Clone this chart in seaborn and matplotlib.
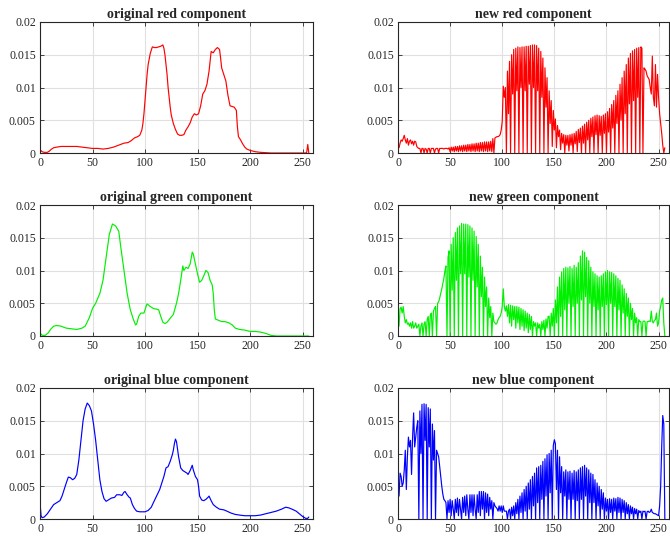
import numpy as np
import pandas as pd
import matplotlib
matplotlib.use("Agg")
import matplotlib.pyplot as plt
import seaborn as sns

# ---------------- data (values in units of 1e-4) ----------------
# original histograms: gray level / value pairs
orig_red_x = [0, 2, 4, 7, 9, 11, 13, 16, 20, 25, 30, 35, 40, 45, 50, 55, 60, 65, 70, 75, 80, 84, 87, 90,
              93, 95, 97, 98, 99, 100, 101, 102, 103, 105, 107, 109, 111, 113, 115, 117, 118, 119, 120,
              121, 122, 123, 124, 125, 127, 129, 131, 133, 135, 137, 139, 141, 143, 145, 147, 149, 151,
              153, 155, 157, 159, 161, 162, 163, 165, 167, 169, 171, 172, 173, 175, 177, 179, 181, 183,
              185, 187, 188, 189, 191, 193, 195, 197, 200, 205, 210, 220, 253, 254, 255, 256]
orig_red_y = [5, 2, 1, 1, 3, 6, 8, 9, 10, 10, 10, 10, 9, 8, 7, 7, 6, 7, 9, 12, 15, 16, 19, 23,
              25, 27, 35, 45, 60, 80, 100, 120, 135, 152, 162, 161, 161, 162, 163, 165, 160, 150, 135,
              120, 100, 85, 70, 58, 45, 36, 29, 27, 27, 28, 35, 40, 46, 55, 60, 58, 60,
              72, 90, 95, 105, 125, 140, 155, 153, 158, 161, 158, 145, 130, 120, 110, 88, 72, 71,
              70, 65, 40, 25, 20, 14, 9, 6, 4, 2, 1, 0, 0, 1, 13, 0]

orig_green_x = [0, 2, 5, 8, 10, 13, 16, 20, 25, 30, 35, 40, 43, 47, 50, 53, 57, 60, 63, 66, 69, 72, 75,
                77, 80, 83, 86, 89, 91, 92, 94, 96, 99, 101, 102, 105, 108, 111, 113, 115, 117, 119, 121,
                124, 127, 130, 132, 134, 136, 137, 139, 141, 143, 145, 146, 148, 150, 152, 154, 156, 158,
                160, 162, 164, 165, 166, 167, 170, 173, 176, 180, 183, 186, 190, 195, 200, 205, 210, 215,
                220, 225, 256]
orig_green_y = [5, 1, 1, 5, 10, 15, 16, 15, 12, 11, 10, 12, 15, 28, 42, 50, 65, 85, 120, 155, 171, 168, 160,
                135, 100, 65, 40, 25, 17, 18, 30, 35, 35, 45, 49, 45, 42, 41, 40, 30, 21, 19, 21,
                27, 33, 50, 65, 85, 107, 100, 105, 103, 110, 128, 125, 110, 95, 82, 85, 92, 100,
                97, 85, 78, 65, 40, 26, 24, 22, 22, 20, 17, 12, 10, 9, 7, 7, 6, 4,
                1, 0, 0]

orig_blue_x = [0, 1, 2, 4, 7, 10, 13, 16, 19, 21, 23, 25, 27, 29, 31, 33, 35, 37, 39, 41, 43, 45, 47, 49,
               51, 53, 55, 57, 59, 61, 63, 65, 68, 71, 73, 76, 78, 80, 81, 83, 85, 86, 88, 90, 92, 95,
               98, 100, 103, 106, 108, 111, 114, 116, 118, 120, 122, 124, 126, 127, 128, 129, 130, 132,
               134, 136, 138, 140, 141, 143, 145, 146, 148, 150, 151, 152, 154, 156, 158, 160, 161, 163,
               165, 168, 171, 175, 178, 182, 186, 190, 195, 200, 205, 210, 215, 220, 225, 230, 234, 237,
               240, 244, 247, 250, 253, 255, 256]
orig_blue_y = [25, 5, 2, 3, 8, 15, 22, 25, 28, 35, 45, 55, 64, 63, 60, 62, 68, 90, 120, 150, 168, 177, 173, 165,
               145, 120, 90, 60, 42, 31, 27, 29, 32, 33, 37, 37, 36, 41, 42, 37, 33, 32, 22, 16, 12, 11,
               11, 11, 13, 18, 25, 35, 45, 55, 65, 78, 80, 88, 98, 105, 115, 122, 118, 95,
               78, 74, 72, 70, 68, 74, 82, 75, 65, 60, 50, 35, 29, 28, 30, 33, 35, 28,
               22, 18, 15, 14, 12, 9, 7, 6, 5, 5, 5, 6, 8, 10, 12, 15, 18, 17,
               15, 12, 8, 4, 1, 1, 3]

# equalised histograms, gray levels 1..256
new_red = [8, 15, 20, 18, 22, 27, 20, 15, 22, 12, 18, 20, 14, 18, 12, 18,
           17, 10, 8, 7, 7, 0, 7, 7, 0, 7, 6, 0, 7, 7, 0, 7,
           7, 7, 0, 6, 7, 7, 0, 7, 7, 7, 7, 6, 7, 7, 7, 6,
           8, 2, 9, 3, 9, 2, 10, 3, 10, 2, 11, 3, 11, 2, 12, 3,
           12, 2, 13, 3, 13, 2, 14, 3, 14, 2, 15, 3, 15, 2, 16, 3,
           16, 2, 17, 3, 17, 2, 17, 3, 18, 2, 22, 0, 23, 24, 25, 25,
           26, 28, 35, 48, 102, 85, 100, 0, 125, 60, 140, 0, 150, 90, 158, 0,
           160, 95, 162, 0, 161, 100, 162, 0, 162, 95, 163, 0, 163, 105, 164, 0,
           165, 100, 165, 0, 164, 95, 160, 0, 155, 85, 145, 0, 130, 70, 115, 0,
           95, 45, 80, 10, 65, 35, 52, 8, 42, 25, 35, 5, 30, 15, 28, 0,
           27, 12, 27, 3, 28, 12, 29, 0, 30, 14, 33, 2, 36, 16, 38, 0,
           41, 15, 44, 0, 47, 20, 50, 0, 53, 25, 55, 0, 57, 28, 58, 0,
           57, 27, 56, 0, 58, 30, 60, 0, 63, 32, 68, 0, 74, 38, 80, 0,
           88, 45, 95, 0, 105, 50, 115, 0, 125, 60, 135, 0, 145, 75, 152, 0,
           156, 80, 158, 0, 160, 85, 161, 0, 162, 160, 0, 130, 128, 125, 118, 115,
           112, 100, 90, 148, 85, 72, 135, 70, 120, 85, 60, 45, 30, 12, 0, 8]

new_green = [15, 42, 44, 35, 45, 30, 20, 25, 18, 20, 15, 20, 12, 22, 12, 15,
             20, 12, 15, 18, 0, 15, 20, 0, 18, 22, 0, 25, 30, 0, 32, 35,
             0, 38, 42, 45, 0, 50, 52, 58, 65, 72, 80, 88, 99, 107, 0, 120,
             130, 0, 140, 70, 150, 0, 158, 85, 165, 0, 168, 95, 172, 0, 171, 95,
             171, 0, 170, 90, 168, 0, 165, 85, 160, 0, 152, 75, 140, 0, 122, 60,
             105, 0, 90, 45, 75, 0, 58, 28, 45, 0, 35, 22, 20, 18, 20, 25,
             28, 30, 35, 45, 72, 45, 38, 46, 30, 48, 20, 47, 15, 46, 25, 45,
             12, 45, 20, 44, 10, 42, 15, 40, 8, 38, 12, 35, 5, 33, 10, 30,
             0, 22, 15, 20, 0, 20, 12, 18, 0, 22, 10, 24, 0, 26, 12, 30,
             30, 0, 35, 15, 42, 0, 55, 20, 75, 0, 90, 30, 98, 0, 103, 40,
             105, 0, 104, 50, 106, 0, 103, 45, 108, 0, 105, 50, 112, 0, 122, 55,
             130, 0, 128, 60, 120, 0, 115, 50, 105, 0, 98, 45, 95, 0, 92, 40,
             90, 0, 92, 45, 95, 0, 98, 48, 100, 0, 98, 50, 97, 0, 95, 45,
             92, 0, 88, 40, 85, 0, 78, 35, 72, 0, 65, 30, 58, 0, 50, 25,
             42, 0, 35, 20, 28, 0, 25, 22, 22, 0, 22, 23, 22, 0, 22, 22,
             23, 22, 38, 22, 20, 24, 25, 35, 15, 20, 38, 45, 55, 58, 20, 0]

new_blue = [35, 70, 65, 50, 55, 75, 105, 45, 95, 125, 110, 120, 68, 125, 162, 110,
            125, 140, 150, 0, 165, 100, 175, 0, 176, 120, 175, 0, 170, 110, 168, 0,
            145, 90, 135, 0, 105, 100, 95, 80, 65, 50, 38, 30, 28, 25, 0, 28,
            10, 30, 5, 28, 15, 0, 30, 10, 32, 5, 30, 15, 0, 33, 10, 35,
            5, 37, 15, 0, 37, 10, 37, 5, 37, 15, 0, 37, 10, 42, 5, 42,
            15, 42, 0, 40, 10, 38, 5, 33, 15, 28, 0, 25, 20, 18, 16, 12,
            20, 12, 20, 10, 20, 12, 12, 12, 0, 12, 15, 0, 18, 5, 20, 0,
            25, 8, 30, 0, 35, 10, 40, 0, 45, 12, 50, 0, 55, 15, 60, 0,
            65, 20, 70, 0, 78, 25, 80, 0, 82, 30, 88, 0, 92, 35, 98, 0,
            100, 40, 105, 0, 112, 121, 115, 45, 105, 0, 95, 40, 80, 0, 72, 35,
            75, 0, 72, 30, 73, 0, 70, 30, 74, 0, 72, 28, 75, 0, 78, 30,
            80, 0, 82, 35, 78, 0, 75, 25, 70, 0, 68, 25, 60, 0, 55, 20,
            50, 0, 45, 15, 40, 0, 32, 12, 30, 0, 31, 10, 30, 0, 32, 12,
            31, 0, 33, 10, 32, 0, 30, 10, 28, 0, 25, 8, 22, 0, 20, 8,
            18, 0, 16, 8, 15, 0, 13, 10, 12, 0, 12, 11, 12, 0, 11, 12,
            10, 11, 15, 10, 9, 8, 8, 7, 6, 5, 20, 50, 110, 158, 145, 0]

titles = ["original red component", "new red component",
          "original green component", "new green component",
          "original blue component", "new blue component"]
colors = ["#ff0000", "#00f000", "#0000ff"]
x_ticks = [0, 50, 100, 150, 200, 250]
y_ticks = [0, 0.005, 0.01, 0.015, 0.02]
y_ticklabels = ["0", "0.005", "0.01", "0.015", "0.02"]

# ---------------- figure ----------------
sns.set_style("ticks")
plt.rcParams["font.family"] = ["Liberation Serif", "DejaVu Serif"]

fig = plt.figure(figsize=(6.70, 5.39), dpi=100)
W, H = 670.0, 539.0
col_x = [(40, 273), (398, 271)]
row_y = [(22, 131), (205, 131), (388, 131)]

series = [
    (orig_red_x, orig_red_y, new_red),
    (orig_green_x, orig_green_y, new_green),
    (orig_blue_x, orig_blue_y, new_blue),
]

for r, (ox, oy, nv) in enumerate(series):
    for c in range(2):
        x0, w = col_x[c]
        y0, h = row_y[r]
        ax = fig.add_axes([x0 / W, 1 - (y0 + h) / H, w / W, h / H])
        if c == 0:
            df = pd.DataFrame({"level": ox, "p": np.array(oy) / 1e4})
        else:
            df = pd.DataFrame({"level": np.arange(1, len(nv) + 1), "p": np.array(nv) / 1e4})
        sns.lineplot(data=df, x="level", y="p", ax=ax, color=colors[r], linewidth=0.85,
                     sort=False, estimator=None, errorbar=None)
        ax.set_xlim(0, 260)
        ax.set_ylim(0, 0.02)
        ax.set_xticks(x_ticks)
        ax.set_yticks(y_ticks)
        ax.set_yticklabels(y_ticklabels)
        ax.set_xlabel("")
        ax.set_ylabel("")
        ax.grid(True, color="#e0e0e0", linewidth=0.8)
        ax.set_axisbelow(True)
        ax.tick_params(direction="in", length=3, width=0.6, top=True, right=True,
                       labelsize=8.5, colors="#262626", pad=3)
        for s in ax.spines.values():
            s.set_visible(True)
            s.set_linewidth(0.8)
            s.set_color("#262626")
        ax.set_title(titles[r * 2 + c], fontsize=10, fontweight="bold", pad=3)

fig.savefig("out.png", dpi=100)
